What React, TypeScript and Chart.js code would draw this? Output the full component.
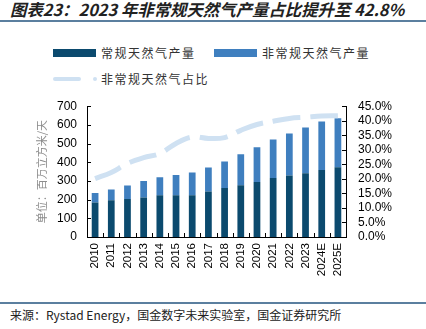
import React, { useEffect, useRef } from "react";
import { Chart, registerables } from "chart.js";

Chart.register(...registerables);

const years = ["2010","2011","2012","2013","2014","2015","2016","2017","2018","2019","2020","2021","2022","2023","2024E","2025E"];
const conventional = [184,197,204,211,223,223,223,243,262,277,295,316,329,341,359,373];
const unconventional = [52,57,71,89,97,109,122,129,142,166,185,206,225,245,259,263];
const unconvShare = [20.1,22.2,25.3,27.3,28.7,32.2,34.4,33.9,34.2,36.7,38.7,39.8,40.8,41.2,41.6,41.7];
const leftTicks = [0,100,200,300,400,500,600,700];
const rightTicks = [0,5,10,15,20,25,30,35,40,45];

const DARK = "#0b4a6e";
const MID = "#3f7fbf";
const LIGHT = "#cfe1f2";
const FONT = "'Liberation Sans', Arial, sans-serif";
const CJK = "'Noto Sans CJK SC', sans-serif";

const inwardTicks = {
  id: "inwardTicks",
  afterDraw(chart: any) {
    const ctx = chart.ctx;
    const yL = chart.scales.y;
    const yR = chart.scales.y1;
    const area = chart.chartArea;
    ctx.save();
    ctx.strokeStyle = "#000";
    ctx.lineWidth = 1;
    ctx.beginPath();
    const n = years.length;
    const w = (area.right - area.left) / n;
    for (let i = 1; i < n; i++) {
      const px = Math.round(area.left + w * i) + 0.5;
      ctx.moveTo(px, area.bottom);
      ctx.lineTo(px, area.bottom - 4);
    }
    leftTicks.forEach((t) => {
      const py = Math.round(yL.getPixelForValue(t)) + 0.5;
      ctx.moveTo(area.left, py);
      ctx.lineTo(area.left + 4, py);
    });
    rightTicks.forEach((t) => {
      const py = Math.round(yR.getPixelForValue(t)) + 0.5;
      ctx.moveTo(area.right, py);
      ctx.lineTo(area.right - 4, py);
    });
    ctx.stroke();
    ctx.restore();
  },
};

export default function App() {
  const ref = useRef<HTMLCanvasElement>(null);
  useEffect(() => {
    document.body.style.margin = "0";
    const chart = new Chart(ref.current!, {
      type: "bar",
      data: {
        labels: years,
        datasets: [
          {
            type: "line",
            label: "非常规天然气占比",
            data: unconvShare,
            yAxisID: "y1",
            borderColor: LIGHT,
            borderWidth: 5,
            borderDash: [28, 10],
            pointRadius: 0,
            tension: 0.4,
            fill: false,
            order: 0,
          } as any,
          {
            label: "常规天然气产量",
            data: conventional,
            backgroundColor: DARK,
            stack: "s",
            yAxisID: "y",
            categoryPercentage: 0.8,
            barPercentage: 0.52,
            order: 1,
          },
          {
            label: "非常规天然气产量",
            data: unconventional,
            backgroundColor: MID,
            stack: "s",
            yAxisID: "y",
            categoryPercentage: 0.8,
            barPercentage: 0.52,
            order: 1,
          },
        ],
      },
      options: {
        animation: false,
        responsive: false,
        maintainAspectRatio: false,
        layout: { padding: { left: 35, right: 0, top: 8, bottom: 0 } },
        plugins: { legend: { display: false }, tooltip: { enabled: false } },
        scales: {
          x: {
            stacked: true,
            offset: true,
            afterFit: (s: any) => { s.height = 51; },
            grid: { display: false, drawTicks: false },
            border: { display: true, color: "#000", width: 1 },
            ticks: {
              maxRotation: 90,
              minRotation: 90,
              color: "#000",
              padding: 6,
              font: { family: FONT, size: 11.5 },
              autoSkip: false,
            },
          },
          y: {
            stacked: true,
            min: 0,
            max: 700,
            position: "left",
            afterFit: (s: any) => { s.width = 52; },
            afterBuildTicks: (s: any) => { s.ticks = leftTicks.map((v) => ({ value: v })); },
            grid: { display: false, drawTicks: false },
            border: { display: true, color: "#000", width: 1 },
            ticks: { autoSkip: false, color: "#000", padding: 10, font: { family: FONT, size: 12 } },
            title: {
              display: true,
              text: "单位：百万立方米/天",
              color: "#8c8c8c",
              font: { family: CJK, size: 11 },
              padding: { top: 0, bottom: 0 },
            },
          },
          y1: {
            min: 0,
            max: 45,
            position: "right",
            afterFit: (s: any) => { s.width = 80; },
            afterBuildTicks: (s: any) => { s.ticks = rightTicks.map((v) => ({ value: v })); },
            grid: { display: false, drawTicks: false },
            border: { display: true, color: "#000", width: 1 },
            ticks: {
              autoSkip: false,
              color: "#000",
              padding: 12,
              font: { family: FONT, size: 12 },
              callback: (v: any) => Number(v).toFixed(1) + "%",
            },
          },
        },
      },
      plugins: [inwardTicks],
    });
    return () => chart.destroy();
  }, []);

  const legendText: React.CSSProperties = {
    fontFamily: CJK,
    fontSize: 12,
    color: "#333",
    letterSpacing: 1.5,
    lineHeight: "16px",
    whiteSpace: "nowrap",
  };

  return (
    <div style={{ position: "relative", width: 426, height: 329, background: "#fff", overflow: "hidden" }}>
      <div
        style={{
          position: "absolute",
          left: 10,
          top: -3,
          fontFamily: CJK,
          fontStyle: "italic",
          fontWeight: 700,
          fontSize: 16.4,
          color: "#222",
          whiteSpace: "nowrap",
        }}
      >
        图表23：2023 年非常规天然气产量占比提升至 42.8%
      </div>
      <div style={{ position: "absolute", left: 0, top: 20, width: 426, height: 2, background: "#5b7f9f" }} />

      <div style={{ position: "absolute", left: 53, top: 49, width: 43, height: 8, background: DARK }} />
      <div style={{ position: "absolute", left: 101, top: 45, ...legendText }}>常规天然气产量</div>
      <div style={{ position: "absolute", left: 214, top: 49, width: 43, height: 8, background: MID }} />
      <div style={{ position: "absolute", left: 262, top: 45, ...legendText }}>非常规天然气产量</div>
      <div style={{ position: "absolute", left: 53, top: 77, width: 28, height: 4, borderRadius: 2, background: LIGHT }} />
      <div style={{ position: "absolute", left: 93, top: 77, width: 4, height: 4, borderRadius: 2, background: LIGHT }} />
      <div style={{ position: "absolute", left: 101, top: 71, ...legendText }}>非常规天然气占比</div>

      <canvas
        ref={ref}
        width={426}
        height={201}
        style={{ position: "absolute", left: 0, top: 87, width: 426, height: 201 }}
      />

      <div style={{ position: "absolute", left: 0, top: 302, width: 426, height: 1.5, background: "#5b7f9f" }} />
      <div
        style={{
          position: "absolute",
          left: 10,
          top: 306,
          fontFamily: CJK,
          fontSize: 12,
          color: "#222",
          whiteSpace: "nowrap",
        }}
      >
        来源：Rystad Energy，国金数字未来实验室，国金证券研究所
      </div>
    </div>
  );
}
